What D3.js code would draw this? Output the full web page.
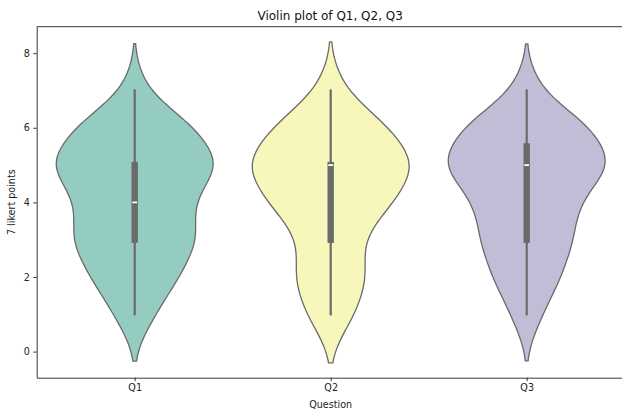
<!DOCTYPE html>
<html><head><meta charset="utf-8">
<script src="https://cdn.jsdelivr.net/npm/d3@7"></script>
<style>
body{margin:0;background:#fff}
svg text{font-family:"DejaVu Sans",sans-serif}
</style>
</head><body>
<svg id="chart" width="622" height="410"></svg>
<script>
// ---- data ----
const categories = ["Q1", "Q2", "Q3"];
const likertLevels = [1, 2, 3, 4, 5, 6, 7];
const countsQ1 = [6, 13, 19, 16, 26, 18, 3];
const countsQ2 = [8, 12, 9, 20, 28, 19, 4];
const countsQ3 = [5, 11, 15, 16, 28, 21, 4];
const whiskerLow = [1, 1, 1];
const quartileLow = [3, 3, 3];
const medians = [4, 5, 5];
const quartileHigh = [5, 5, 5.5];
const whiskerHigh = [7, 7, 7];
const yTicks = [0, 2, 4, 6, 8];
const colors = ["#94ccc2", "#f7f7bb", "#c0bdd7"];
const titleText = "Violin plot of Q1, Q2, Q3";
const xLabel = "Question";
const yLabel = "7 likert points";

const counts = [countsQ1, countsQ2, countsQ3];

// ---- layout ----
const plotLeft = 36.7, plotTop = 26.7, plotBottom = 377.7, catStep = 196;
const gray = "#6a6a6a";

const svg = d3.select("#chart");

const x = d3.scalePoint().domain(categories)
  .range([plotLeft, plotLeft + catStep * categories.length]).padding(0.5);
const y = d3.scaleLinear().domain([-0.70, 8.71]).range([plotBottom, plotTop]);

// ---- KDE (Gaussian, Scott's rule, cut = 2), like seaborn ----
function violinProfile(cnt) {
  const obs = [];
  likertLevels.forEach((lv, i) => { for (let k = 0; k < cnt[i]; k++) obs.push(lv); });
  const n = obs.length;
  const sd = d3.deviation(obs);
  const bw = Math.pow(n, -1 / 5) * sd;
  const lo = d3.min(obs) - 2 * bw, hi = d3.max(obs) + 2 * bw;
  const grid = d3.range(100).map(i => lo + (hi - lo) * i / 99);
  const dens = grid.map(v => {
    let s = 0;
    likertLevels.forEach((lv, i) => {
      const z = (v - lv) / bw;
      s += cnt[i] * Math.exp(-0.5 * z * z);
    });
    return s / (n * bw * Math.sqrt(2 * Math.PI));
  });
  return grid.map((v, i) => ({ v, d: dens[i] }));
}

const profiles = counts.map(violinProfile);
const halfMax = 0.4 * catStep;

const g = svg.append("g");

categories.forEach((cat, i) => {
  const prof = profiles[i];
  const maxD = d3.max(prof, p => p.d);
  const wScale = d3.scaleLinear().domain([0, maxD]).range([0, halfMax]);
  const cx = x(cat);
  const area = d3.area()
    .y(p => y(p.v))
    .x0(p => cx - wScale(p.d))
    .x1(p => cx + wScale(p.d));
  g.append("path").datum(prof)
    .attr("d", area)
    .attr("fill", colors[i])
    .attr("stroke", gray)
    .attr("stroke-width", 1.3)
    .attr("stroke-linejoin", "round");

  // whisker
  g.append("line")
    .attr("x1", cx).attr("x2", cx)
    .attr("y1", y(whiskerLow[i])).attr("y2", y(whiskerHigh[i]))
    .attr("stroke", gray).attr("stroke-width", 2.2)
    .attr("stroke-linecap", "square");
  // box (projecting cap)
  g.append("line")
    .attr("x1", cx).attr("x2", cx)
    .attr("y1", y(quartileLow[i])).attr("y2", y(quartileHigh[i]))
    .attr("stroke", gray).attr("stroke-width", 6.4)
    .attr("stroke-linecap", "square");
  // median marker
  g.append("line")
    .attr("x1", cx - 2.4).attr("x2", cx + 2.4)
    .attr("y1", y(medians[i])).attr("y2", y(medians[i]))
    .attr("stroke", "#fff").attr("stroke-width", 1.8);
});

// ---- axes ----
const axisColor = "#222";
const yAxis = svg.append("g").attr("transform", `translate(${plotLeft},0)`)
  .call(d3.axisLeft(y).tickValues(yTicks).tickSize(3.4).tickSizeOuter(0).tickPadding(3.4));
const xAxis = svg.append("g").attr("transform", `translate(0,${plotBottom})`)
  .call(d3.axisBottom(x).tickSize(3.4).tickSizeOuter(0).tickPadding(3.4));
[yAxis, xAxis].forEach(a => {
  a.selectAll("path.domain").attr("stroke", axisColor).attr("stroke-width", 0.9);
  a.selectAll(".tick line").attr("stroke", axisColor).attr("stroke-width", 0.9);
  a.selectAll(".tick text").attr("fill", axisColor).attr("font-size", 9.6)
    .attr("font-family", "DejaVu Sans, sans-serif");
});
// top spine
svg.append("line")
  .attr("x1", x.range()[0]).attr("x2", x.range()[1])
  .attr("y1", plotTop).attr("y2", plotTop)
  .attr("stroke", axisColor).attr("stroke-width", 0.9);

// ---- labels ----
svg.append("text").attr("x", (x.range()[0] + x.range()[1]) / 2 - 0.5).attr("y", 19.8)
  .attr("text-anchor", "middle").attr("font-size", 12).attr("fill", "#111").text(titleText);
svg.append("text").attr("x", x(categories[1])).attr("y", 408)
  .attr("text-anchor", "middle").attr("font-size", 9.6).attr("fill", axisColor).text(xLabel);
svg.append("text")
  .attr("transform", `translate(14.5,${(plotTop + plotBottom) / 2}) rotate(-90)`)
  .attr("text-anchor", "middle").attr("font-size", 9.6).attr("fill", axisColor).text(yLabel);
</script>
</body></html>
